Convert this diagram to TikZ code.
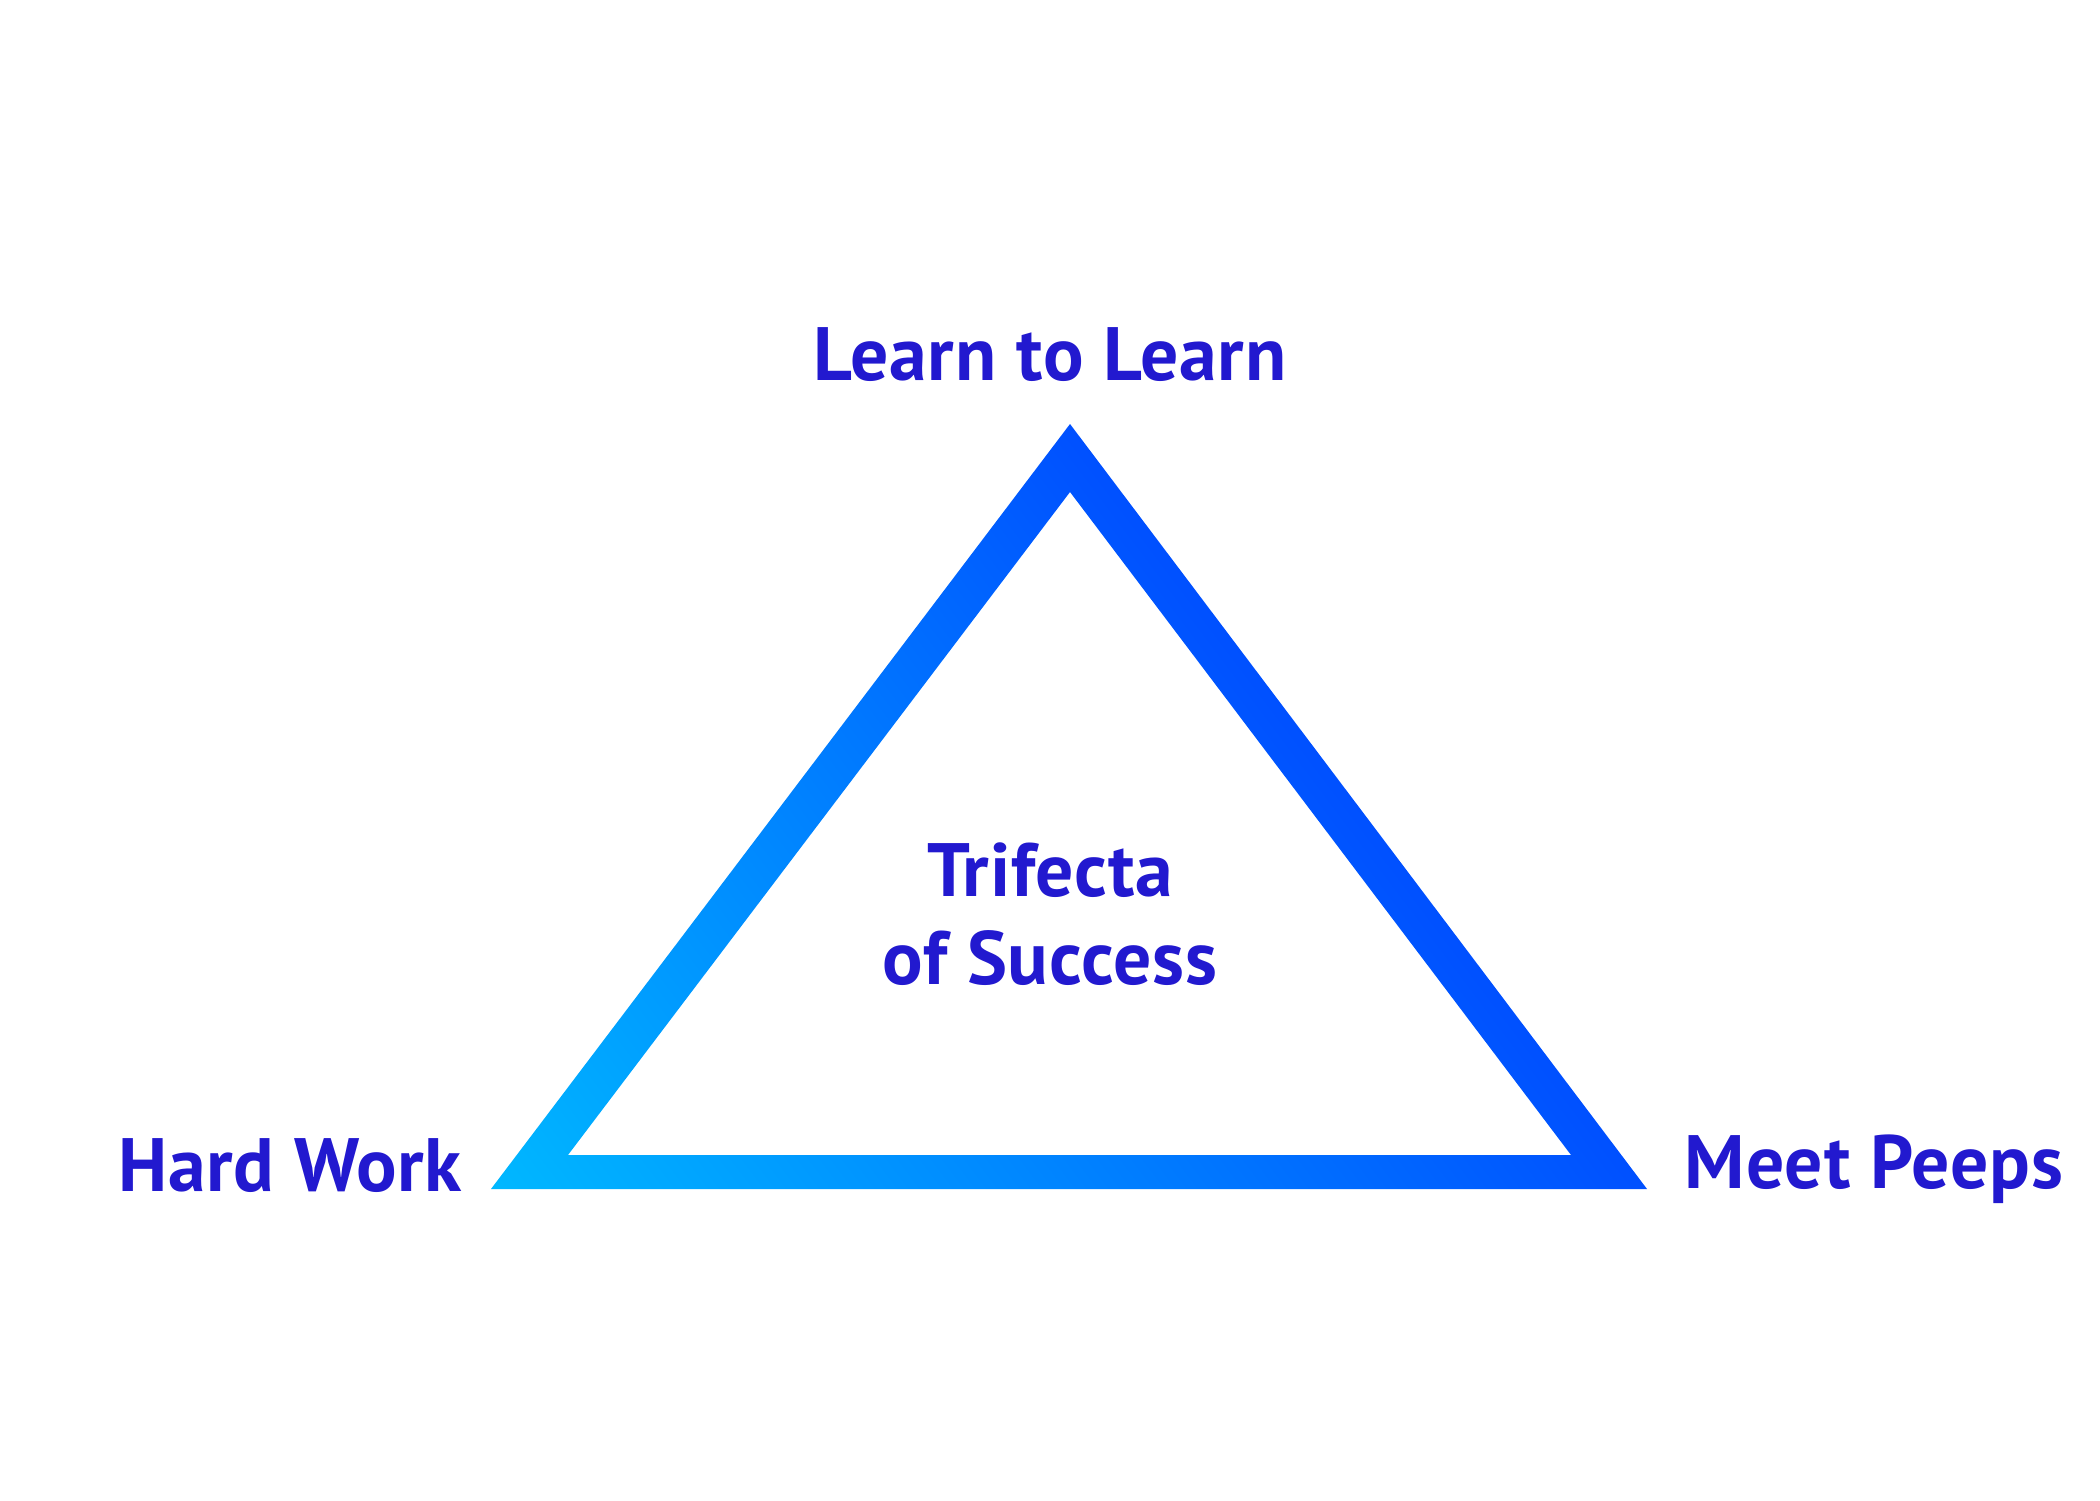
\documentclass[tikz,border=0pt]{standalone}
\usepackage{fontspec}
\setmainfont{PT Sans}[LetterSpace=1.0]
\usetikzlibrary{positioning}
\definecolor{trink}{HTML}{2219CF}
\definecolor{tricyan}{HTML}{00B8FF}
\definecolor{triblue}{HTML}{0050FF}

\begin{document}
\begin{tikzpicture}[x=0.01cm,y=-0.01cm,
  lbl/.style={text=trink,font=\fontsize{21.5}{25}\selectfont\bfseries,inner sep=0pt,anchor=base}]
\useasboundingbox (0,0) rectangle (2100,1500);
% outer and inner corners of the triangle
\coordinate (oTop) at (1070,424);
\coordinate (oLeft) at (491,1189);
\coordinate (oRight) at (1647,1189);
\coordinate (iTop) at (1070,492);
\coordinate (iLeft) at (568,1155);
\coordinate (iRight) at (1571,1155);
\begin{scope}[even odd rule]
  \clip (oTop) -- (oLeft) -- (oRight) -- cycle
    (iTop) -- (iLeft) -- (iRight) -- cycle;
  \begin{scope}[transform canvas={rotate around={37:(oLeft)}}]
    \shade[left color=tricyan,right color=triblue] (491,-800) rectangle (1415,2800);
  \end{scope}
\end{scope}
\node[lbl] (learn) at (1050,380) {Learn to Learn};
\node[lbl] (hard) at (290,1191) {Hard Work};
\node[lbl] (meet) at (1874,1188) {Meet Peeps};
\node[lbl] (tri) at (1050,896) {Trifecta};
\node[lbl] (succ) at (1050,984) {of Success};
\end{tikzpicture}
\end{document}
